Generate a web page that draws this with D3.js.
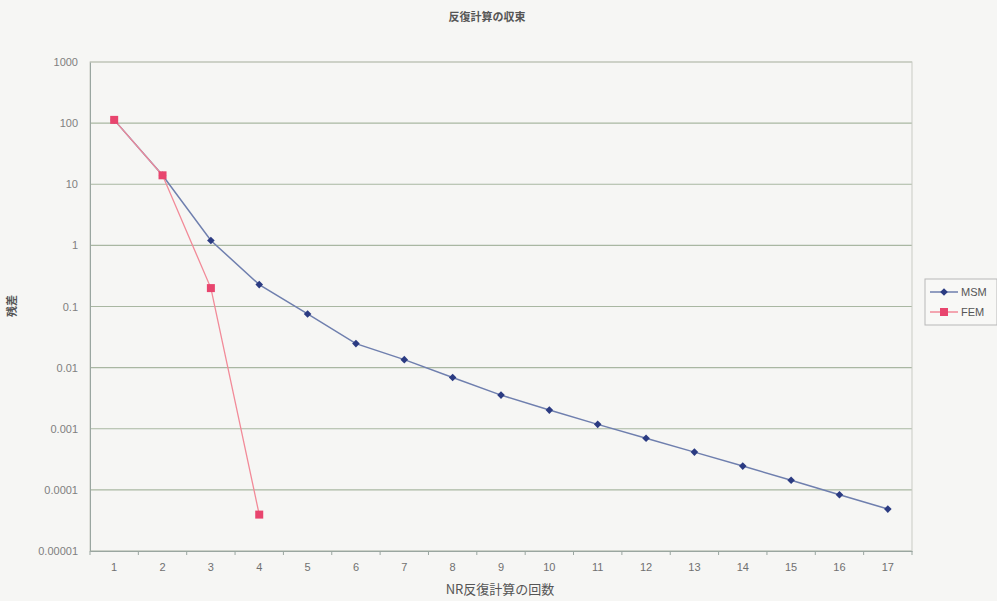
<!DOCTYPE html>
<html><head><meta charset="utf-8">
<script src="https://cdn.jsdelivr.net/npm/d3@7"></script>
<style>
html,body{margin:0;padding:0;background:#f6f6f4;}
svg{display:block;font-family:"Liberation Sans","Noto Sans CJK JP",sans-serif;}
</style></head>
<body>
<svg id="c" width="997" height="601"></svg>
<script>
const categories = ["1","2","3","4","5","6","7","8","9","10","11","12","13","14","15","16","17"];
const msmValues = [113, 14.0, 1.2, 0.228, 0.0755, 0.0247, 0.0135, 0.0069, 0.00355, 0.00202, 0.00118, 0.00070, 0.000415, 0.000245, 0.000144, 0.000083, 0.0000485];
const femValues = [113, 14.0, 0.2, 0.0000394];
const yTicks = [1000, 100, 10, 1, 0.1, 0.01, 0.001, 0.0001, 0.00001];
const yTickLabels = ["1000", "100", "10", "1", "0.1", "0.01", "0.001", "0.0001", "0.00001"];
const seriesNames = ["MSM", "FEM"];

const svg = d3.select("#c");
const m = {l: 90, r: 912, t: 62, b: 551};

const x = d3.scaleBand().domain(categories).range([m.l, m.r]).padding(0);
const y = d3.scaleLog().domain([0.00001, 1000]).range([m.b, m.t]);

svg.append("g").selectAll("line").data(yTicks).join("line")
  .attr("x1", m.l).attr("x2", m.r)
  .attr("y1", d => y(d)).attr("y2", d => y(d))
  .attr("stroke", "#a9b7a2").attr("stroke-width", 1.2);

svg.append("rect").attr("x", m.l).attr("y", m.t).attr("width", m.r - m.l).attr("height", m.b - m.t)
  .attr("fill", "none").attr("stroke", "#c9cbc4").attr("stroke-width", 1);

const yAxis = d3.axisLeft(y).tickValues(yTicks).tickFormat((d, i) => yTickLabels[i]).tickSize(0).tickPadding(12);
const gy = svg.append("g").attr("transform", `translate(${m.l},0)`).call(yAxis);
gy.select(".domain").attr("stroke", "#9aa6a0");
gy.selectAll("text").attr("font-size", 11).attr("fill", "#808080");

const xAxis = d3.axisBottom(x).tickSize(0).tickPadding(12);
const gx = svg.append("g").attr("transform", `translate(0,${m.b})`).call(xAxis);
gx.select(".domain").attr("stroke", "#9aa6a0");
gx.selectAll("text").attr("font-size", 11).attr("fill", "#707070");
const boundaries = categories.map(c => x(c)).concat([m.r]);
svg.append("g").selectAll("line").data(boundaries).join("line")
  .attr("x1", d => d).attr("x2", d => d).attr("y1", m.b).attr("y2", m.b + 4)
  .attr("stroke", "#9aa6a0");

const cx = i => x(categories[i]) + x.bandwidth() / 2;
const line = d3.line().x((d, i) => cx(i)).y(d => y(d));
const diamond = "M0,-3.8L3.8,0L0,3.8L-3.8,0Z";

svg.append("path").datum(msmValues).attr("d", line).attr("fill", "none")
  .attr("stroke", "#6f7fae").attr("stroke-width", 1.5);
svg.append("g").selectAll("path").data(msmValues).join("path")
  .attr("d", diamond)
  .attr("transform", (d, i) => `translate(${cx(i)},${y(d)})`)
  .attr("fill", "#2b3b82");

svg.append("path").datum(femValues).attr("d", line).attr("fill", "none")
  .attr("stroke", "#f28a98").attr("stroke-width", 1.3);
svg.append("g").selectAll("rect").data(femValues).join("rect")
  .attr("x", (d, i) => cx(i) - 4).attr("y", d => y(d) - 4)
  .attr("width", 8).attr("height", 8).attr("fill", "#e8456e");

svg.append("text").attr("x", 487).attr("y", 21).attr("text-anchor", "middle")
  .attr("font-size", 11).attr("font-weight", "bold").attr("fill", "#555")
  .attr("font-family", "'Noto Sans CJK JP',sans-serif").text("反復計算の収束");

svg.append("text").attr("x", 500).attr("y", 594).attr("text-anchor", "middle")
  .attr("font-size", 13).attr("fill", "#555")
  .attr("font-family", "'Noto Sans CJK JP',sans-serif").text("NR反復計算の回数");
svg.append("text").attr("transform", "translate(16,306) rotate(-90)").attr("text-anchor", "middle")
  .attr("font-size", 11).attr("font-weight", "bold").attr("fill", "#555")
  .attr("font-family", "'Noto Sans CJK JP',sans-serif").text("残差");

const lg = svg.append("g").attr("transform", "translate(925,279)");
lg.append("rect").attr("x", 0).attr("y", 0).attr("width", 72).attr("height", 46)
  .attr("fill", "#f8f8f6").attr("stroke", "#b8b8b8");
const lcol = ["#6f7fae", "#f28a98"], mcol = ["#2b3b82", "#e8456e"];
seriesNames.forEach((n, i) => {
  const yy = 13 + i * 20;
  lg.append("line").attr("x1", 5).attr("x2", 33).attr("y1", yy).attr("y2", yy)
    .attr("stroke", lcol[i]).attr("stroke-width", 1.5);
  if (i === 0) lg.append("path").attr("d", diamond).attr("transform", `translate(19,${yy})`).attr("fill", mcol[i]);
  else lg.append("rect").attr("x", 15).attr("y", yy - 4).attr("width", 8).attr("height", 8).attr("fill", mcol[i]);
  lg.append("text").attr("x", 36).attr("y", yy + 4).attr("font-size", 11).attr("fill", "#555").text(n);
});
</script>
</body></html>
